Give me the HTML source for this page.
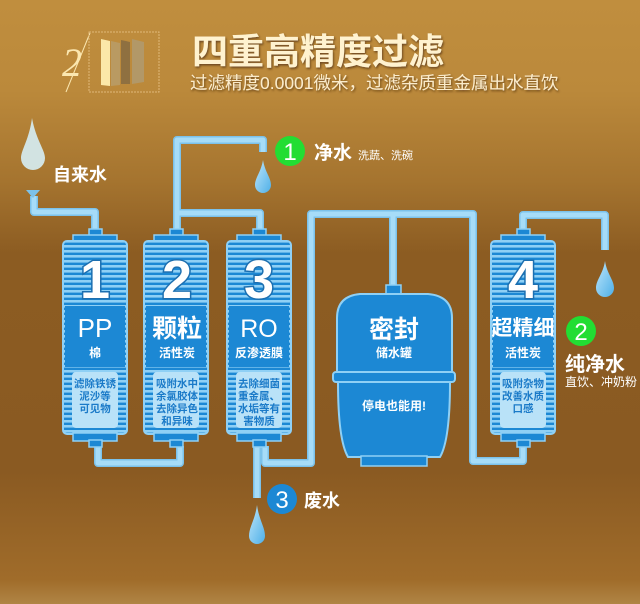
<!DOCTYPE html>
<html><head><meta charset="utf-8"><style>
html,body{margin:0;padding:0;width:640px;height:604px;overflow:hidden}
body{font-family:"Liberation Sans","Noto Sans CJK SC",sans-serif}
</style></head><body>
<svg width="640" height="604" viewBox="0 0 640 604" xmlns="http://www.w3.org/2000/svg" style="display:block;font-family:'Liberation Sans','Noto Sans CJK SC',sans-serif">
<defs>
<linearGradient id="bg" x1="0" y1="0" x2="0" y2="1">
<stop offset="0" stop-color="#c08e3e"/>
<stop offset="0.15" stop-color="#bb893b"/>
<stop offset="0.3" stop-color="#a5742f"/>
<stop offset="0.42" stop-color="#8c5c22"/>
<stop offset="0.78" stop-color="#8a5a22"/>
<stop offset="0.96" stop-color="#a06c2a"/>
<stop offset="1" stop-color="#b08545"/>
</linearGradient>
<pattern id="st" width="8" height="5" patternUnits="userSpaceOnUse">
<rect width="8" height="5" fill="#1c88d4"/>
<rect y="0" width="8" height="2.6" fill="#8fd0f5"/>
</pattern>
<linearGradient id="drop" x1="0" y1="0" x2="1" y2="1">
<stop offset="0" stop-color="#bfe6fb"/><stop offset="1" stop-color="#4fb0e8"/>
</linearGradient>
<filter id="sh"><feDropShadow dx="1" dy="1.5" stdDeviation="1" flood-color="#4a2c08" flood-opacity="0.7"/></filter>
</defs>
<rect width="640" height="604" fill="url(#bg)"/>

<!-- logo -->
<text x="62" y="76" font-family="'Liberation Serif',serif" font-style="italic" font-size="40" fill="#fbe7b0">2</text>
<line x1="90" y1="33" x2="66" y2="92" stroke="#fbe7b0" stroke-width="1"/>
<rect x="89" y="32" width="70" height="60" fill="none" stroke="#e0b878" stroke-dasharray="2,1" stroke-width="1"/>
<polygon points="101,39 110,41 110,86 101,85" fill="#fbe8a8"/>
<polygon points="111,41 120,43 120,85 111,86" fill="#b99a62"/>
<polygon points="121,40 130,42 130,84 121,84" fill="#8f7040"/>
<polygon points="132,39 144,42 144,82 132,84" fill="#b29868"/>

<!-- title -->
<text x="192" y="64" font-size="36" font-weight="bold" fill="#fff2cf" filter="url(#sh)">四重高精度过滤</text>
<text x="190" y="89" font-size="17.5" fill="#fbeccc" filter="url(#sh)">过滤精度0.0001微米，过滤杂质重金属出水直饮</text>

<!-- pipes -->
<g fill="none" stroke="#7cc2ea" stroke-width="8" stroke-linejoin="round">
<path d="M34 196 V212 H95 V232"/>
<path d="M177 232 V140 H263 V152"/>
<path d="M177 213 H260 V232"/>
<path d="M98 446 V463 H180 V446"/>
<path d="M257 446 V498"/>
<path d="M265 446 V463 H311 V214 H473 V461 H523 V446"/>
<path d="M393 214 V288"/>
<path d="M523 232 V215 H605 V250"/>
</g>
<g fill="none" stroke="#a6dcf8" stroke-width="5" stroke-linejoin="round">
<path d="M34 196 V212 H95 V232"/>
<path d="M177 232 V140 H263 V152"/>
<path d="M177 213 H260 V232"/>
<path d="M98 446 V463 H180 V446"/>
<path d="M257 446 V498"/>
<path d="M265 446 V463 H311 V214 H473 V461 H523 V446"/>
<path d="M393 214 V288"/>
<path d="M523 232 V215 H605 V250"/>
</g>

<!-- cartridges -->
<g id="c1">
<rect x="89" y="229" width="13" height="8" fill="#1c88d4" stroke="#8fd0f5" stroke-width="1.5"/>
<rect x="73" y="235" width="44" height="8" fill="#1c88d4" stroke="#8fd0f5" stroke-width="1.5"/>
<rect x="63" y="241" width="64" height="193" rx="4" fill="url(#st)" stroke="#8fd0f5" stroke-width="2"/>
<rect x="65" y="306" width="60" height="61" fill="#1c88d4"/>
<rect x="72" y="372" width="46" height="56" rx="4" fill="#b9e2f8"/>
<rect x="73" y="433" width="44" height="8" fill="#1c88d4" stroke="#8fd0f5" stroke-width="1.5"/>
<rect x="89" y="440" width="13" height="7" fill="#1c88d4" stroke="#8fd0f5" stroke-width="1.5"/>
</g>
<use href="#c1" x="81"/>
<use href="#c1" x="164"/>
<use href="#c1" x="428"/>

<g text-anchor="middle" fill="#fff" font-weight="bold">
<g font-size="54" stroke="#1c6fb0" stroke-width="3" style="paint-order:stroke">
<text x="95" y="298">1</text><text x="177" y="298">2</text><text x="259" y="298">3</text><text x="523" y="298">4</text>
</g>
<text x="95" y="337" font-size="26" font-weight="normal">PP</text>
<text x="177" y="337" font-size="25">颗粒</text>
<text x="259" y="337" font-size="25" font-weight="normal">RO</text>
<text x="523" y="335" font-size="21">超精细</text>
<g font-size="12"><text x="95" y="357">棉</text><text x="177" y="357">活性炭</text><text x="259" y="357">反渗透膜</text><text x="523" y="357">活性炭</text></g>
<g font-size="10.5" fill="#1a7ac8">
<text x="95" y="387">滤除铁锈</text><text x="95" y="399.5">泥沙等</text><text x="95" y="412">可见物</text>
<text x="177" y="387">吸附水中</text><text x="177" y="399.5">余氯胶体</text><text x="177" y="412">去除异色</text><text x="177" y="424.5">和异味</text>
<text x="259" y="387">去除细菌</text><text x="259" y="399.5">重金属、</text><text x="259" y="412">水垢等有</text><text x="259" y="424.5">害物质</text>
<text x="523" y="387">吸附杂物</text><text x="523" y="399.5">改善水质</text><text x="523" y="412">口感</text>
</g>
</g>

<!-- tank -->
<rect x="386" y="285" width="15" height="10" fill="#1c88d4" stroke="#8fd0f5" stroke-width="1.5"/>
<path d="M337 372 V318 Q337 296 360 294 H428 Q452 296 452 318 V372 Z" fill="#1c88d4" stroke="#8fd0f5" stroke-width="2"/>
<rect x="333" y="372" width="122" height="10" rx="3" fill="#1c88d4" stroke="#8fd0f5" stroke-width="2"/>
<path d="M338 382 H450 Q450 440 440 457 H348 Q338 440 338 382 Z" fill="#1c88d4" stroke="#8fd0f5" stroke-width="2"/>
<rect x="361" y="456" width="66" height="10" fill="#1c88d4" stroke="#8fd0f5" stroke-width="1.5"/>
<g text-anchor="middle" fill="#fff" font-weight="bold">
<text x="394" y="338" font-size="25">密封</text>
<text x="394" y="357" font-size="12">储水罐</text>
<text x="394" y="410" font-size="12">停电也能用!</text>
</g>

<!-- drops -->
<path d="M32 118 C36 140 45 150 45 158 A11 11 0 0 1 21 158 C21 150 29 140 32 118 Z" fill="#d6eef5" opacity="0.9"/>
<polygon points="26,190 40,190 33,198" fill="#7cc2ea"/>
<path d="M263 160 C265 172 271 178 271 185 A8 8 0 0 1 255 185 C255 178 261 172 263 160 Z" fill="url(#drop)"/>
<path d="M605 261 C607 274 614 280 614 288 A9 9 0 0 1 596 288 C596 280 603 274 605 261 Z" fill="url(#drop)"/>
<path d="M257 505 C259 520 265 527 265 536 A8 8 0 0 1 249 536 C249 527 255 520 257 505 Z" fill="url(#drop)"/>

<!-- labels -->
<g fill="#fff" font-weight="bold">
<text x="53" y="181" font-size="18">自来水</text>
<circle cx="290" cy="151" r="15" fill="#22dd33"/>
<text x="290" y="160" font-size="24" text-anchor="middle" font-weight="normal">1</text>
<text x="314" y="159" font-size="19">净水</text>
<text x="358" y="159" font-size="11" font-weight="normal">洗蔬、洗碗</text>
<circle cx="581" cy="331" r="15" fill="#22dd33"/>
<text x="581" y="340" font-size="24" text-anchor="middle" font-weight="normal">2</text>
<text x="565" y="371" font-size="20">纯净水</text>
<text x="565" y="386" font-size="12" font-weight="normal">直饮、冲奶粉</text>
<circle cx="282" cy="499" r="15" fill="#1c88d4"/>
<text x="282" y="508" font-size="24" text-anchor="middle" font-weight="normal">3</text>
<text x="304" y="507" font-size="18">废水</text>
</g>
</svg>
</body></html>
